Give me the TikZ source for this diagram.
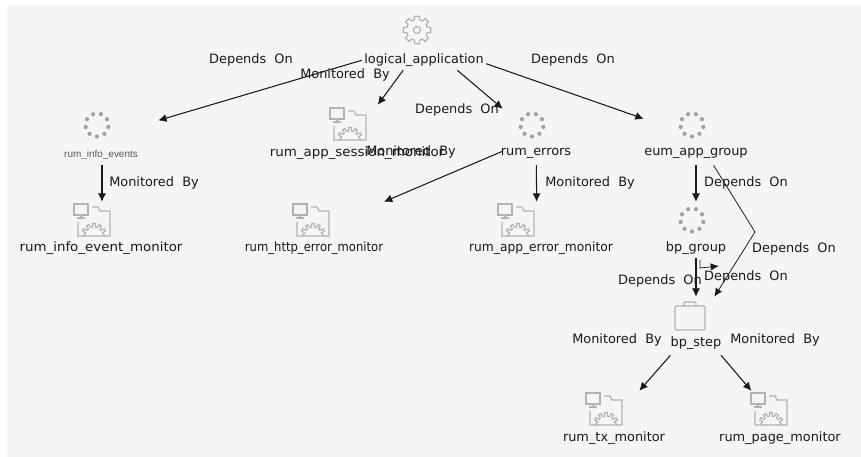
\documentclass[tikz,border=0pt]{standalone}
\usepackage{fontspec}
\setmainfont{DejaVu Sans}
\newfontfamily\smallfont{Liberation Sans}
\usepackage{xcolor}
\usetikzlibrary{positioning, arrows.meta, calc}
\definecolor{panel}{HTML}{F5F5F5}
\definecolor{icon}{HTML}{B2B2B2}
\definecolor{dotgray}{HTML}{A0A0A0}
\newcommand{\lblfont}{\fontsize{11pt}{12pt}\selectfont\spaceskip 7pt\relax}
\tikzset{
	box/.style={inner sep=0pt, minimum height=#1},
	box/.default=1.68cm,
	lbl/.style={inner sep=0pt, font=\lblfont, text=black!90},
	link/.style={-{Latex[length=0.25cm,width=0.24cm]}, line width=0.9pt, black!90},
	thin link/.style={-{Latex[length=0.25cm,width=0.22cm]}, line width=0.65pt, black!90},
	pics/gear/.style={code={
		\draw[icon, line width=1pt] (-15:10.5) \foreach \a in {0,45,...,315} { -- (\a-15:10.5) -- (\a-10:14) -- (\a+10:14) -- (\a+15:10.5) } -- cycle;
		\draw[icon, line width=1pt] (0,0) circle (3.5);
	}},
	pics/dots/.style={code={
		\foreach \a in {10,50,...,350} \fill[dotgray] (\a:11.5) circle (2.1);
	}},
	pics/monitor/.style={code={
		\draw[icon, line width=1pt] (-18,-16) rectangle (-4,-5);
		\draw[icon, line width=1pt] (-11,-5) -- (-11,-2) (-15,-2) -- (-7,-2);
		\draw[icon, line width=1pt] (-14,2) -- (-14,16) -- (18,16) -- (18,-9) -- (8,-9) -- (6,-13) -- (0,-13);
		\draw[icon, line width=1pt] (-9,16) \foreach \a in {-150,-120,-90,-60,-30} { -- ($(2,16)+(\a-9:9)$) -- ($(2,16)+(\a-6:12.5)$) -- ($(2,16)+(\a+6:12.5)$) -- ($(2,16)+(\a+9:9)$) } -- (13,16);
	}},
	pics/bag/.style={code={
		\draw[icon, line width=1.1pt, rounded corners=1pt] (-15,-10) rectangle (15,14);
		\draw[icon, line width=1.1pt, rounded corners=1pt] (-6,-10) -- (-6,-14) -- (6,-14) -- (6,-10);
	}},
}
\begin{document}
\begin{tikzpicture}[x=0.03cm, y=-0.03cm]
	\useasboundingbox (0,0) rectangle (861,457);
	\fill[panel] (7,5) rectangle (861,457);

	\pic (i0) at (417,30) {gear};
	\pic (i1) at (97,125) {dots};
	\pic (i2) at (348,124) {monitor};
	\pic (i3) at (532,125) {dots};
	\pic (i4) at (692,125) {dots};
	\pic (i5) at (92,220) {monitor};
	\pic (i6) at (311,220) {monitor};
	\pic (i7) at (516,220) {monitor};
	\pic (i8) at (692,220) {dots};
	\pic (i9) at (690,316) {bag};
	\pic (i10) at (604,409) {monitor};
	\pic (i11) at (769,409) {monitor};

	\node[box, minimum width=3.72cm] (q0) at (424,42) {};
	\node[box, minimum width=3.36cm] (q1) at (102,137) {};
	\node[box, minimum width=5.2cm] (q2) at (357,133) {};
	\node[box, minimum width=2.04cm] (q3) at (536,137) {};
	\node[box, minimum width=3.12cm] (q4) at (696,137) {};
	\node[box=1.8cm, minimum width=5cm] (q5) at (102,232) {};
	\node[box=1.8cm, minimum width=5cm] (q6) at (313,232) {};
	\node[box=1.8cm, minimum width=5cm] (q7) at (537,232) {};
	\node[box, minimum width=2.4cm] (q8) at (696,230) {};
	\node[box=1.74cm, minimum width=1.6cm] (q9) at (696,326) {};
	\node[box=1.86cm, minimum width=3cm] (q10) at (612,422) {};
	\node[box=1.86cm, minimum width=3.6cm] (q11) at (778,422) {};

	\node[lbl] (t0) at (424,60) {logical\_application};
	\node[inner sep=0pt, font=\smallfont\fontsize{8.5pt}{9pt}\selectfont, text=black!65] (t1) at (101,155) {rum\_info\_events};
	\node[lbl, xscale=1.04, transform shape] (t2) at (357,153) {rum\_app\_session\_monitor};
	\node[lbl] (t3) at (536,153) {rum\_errors};
	\node[lbl] (t4) at (696,153) {eum\_app\_group};
	\node[lbl, xscale=1.04, transform shape] (t5) at (101,248) {rum\_info\_event\_monitor};
	\node[lbl, xscale=0.9, transform shape] (t6) at (314,248) {rum\_http\_error\_monitor};
	\node[lbl, xscale=0.95, transform shape] (t7) at (541,248) {rum\_app\_error\_monitor};
	\node[lbl] (t8) at (696,248) {bp\_group};
	\node[lbl] (t9) at (696,343) {bp\_step};
	\node[lbl] (t10) at (614,438) {rum\_tx\_monitor};
	\node[lbl] (t11) at (780,438) {rum\_page\_monitor};

	\node[lbl] (d0) at (251,60) {Depends On};
	\node[lbl] (d1) at (345,75) {Monitored By};
	\node[lbl] (d2) at (457,110) {Depends On};
	\node[lbl] (d3) at (573,60) {Depends On};
	\node[lbl] (d4) at (411,152) {Monitored By};
	\node[lbl] (d5) at (154,183) {Monitored By};
	\node[lbl] (d6) at (590,183) {Monitored By};
	\node[lbl] (d7) at (746,183) {Depends On};
	\node[lbl] (d8) at (794,249) {Depends On};
	\node[lbl] (d9) at (660,281) {Depends On};
	\node[lbl] (d10) at (746,277) {Depends On};
	\node[lbl] (d11) at (617,340) {Monitored By};
	\node[lbl] (d12) at (775,340) {Monitored By};

	\coordinate (c1) at (755,232);
	\coordinate (c2) at (700,260);
	\coordinate (c3) at (700,268);
	\coordinate (c4) at (719,266);

	\draw (q0) edge[link] (q1);
	\draw (q0) edge[link] (q2);
	\draw (q0) edge[link] (q3);
	\draw (q0) edge[link] (q4);
	\draw (q1) edge[link] (q5);
	\draw (q3) edge[link] (q6);
	\draw (q3) edge[link] (q7);
	\draw (q4) edge[link] (q8);
	\draw (q8) edge[link] (q9);
	\draw (q9) edge[link] (q10);
	\draw (q9) edge[link] (q11);
	\draw[thin link] (q4) -- (c1) -- (q9);
	\draw[thin link] (c2) -- (c3) -- (c4);
\end{tikzpicture}
\end{document}
